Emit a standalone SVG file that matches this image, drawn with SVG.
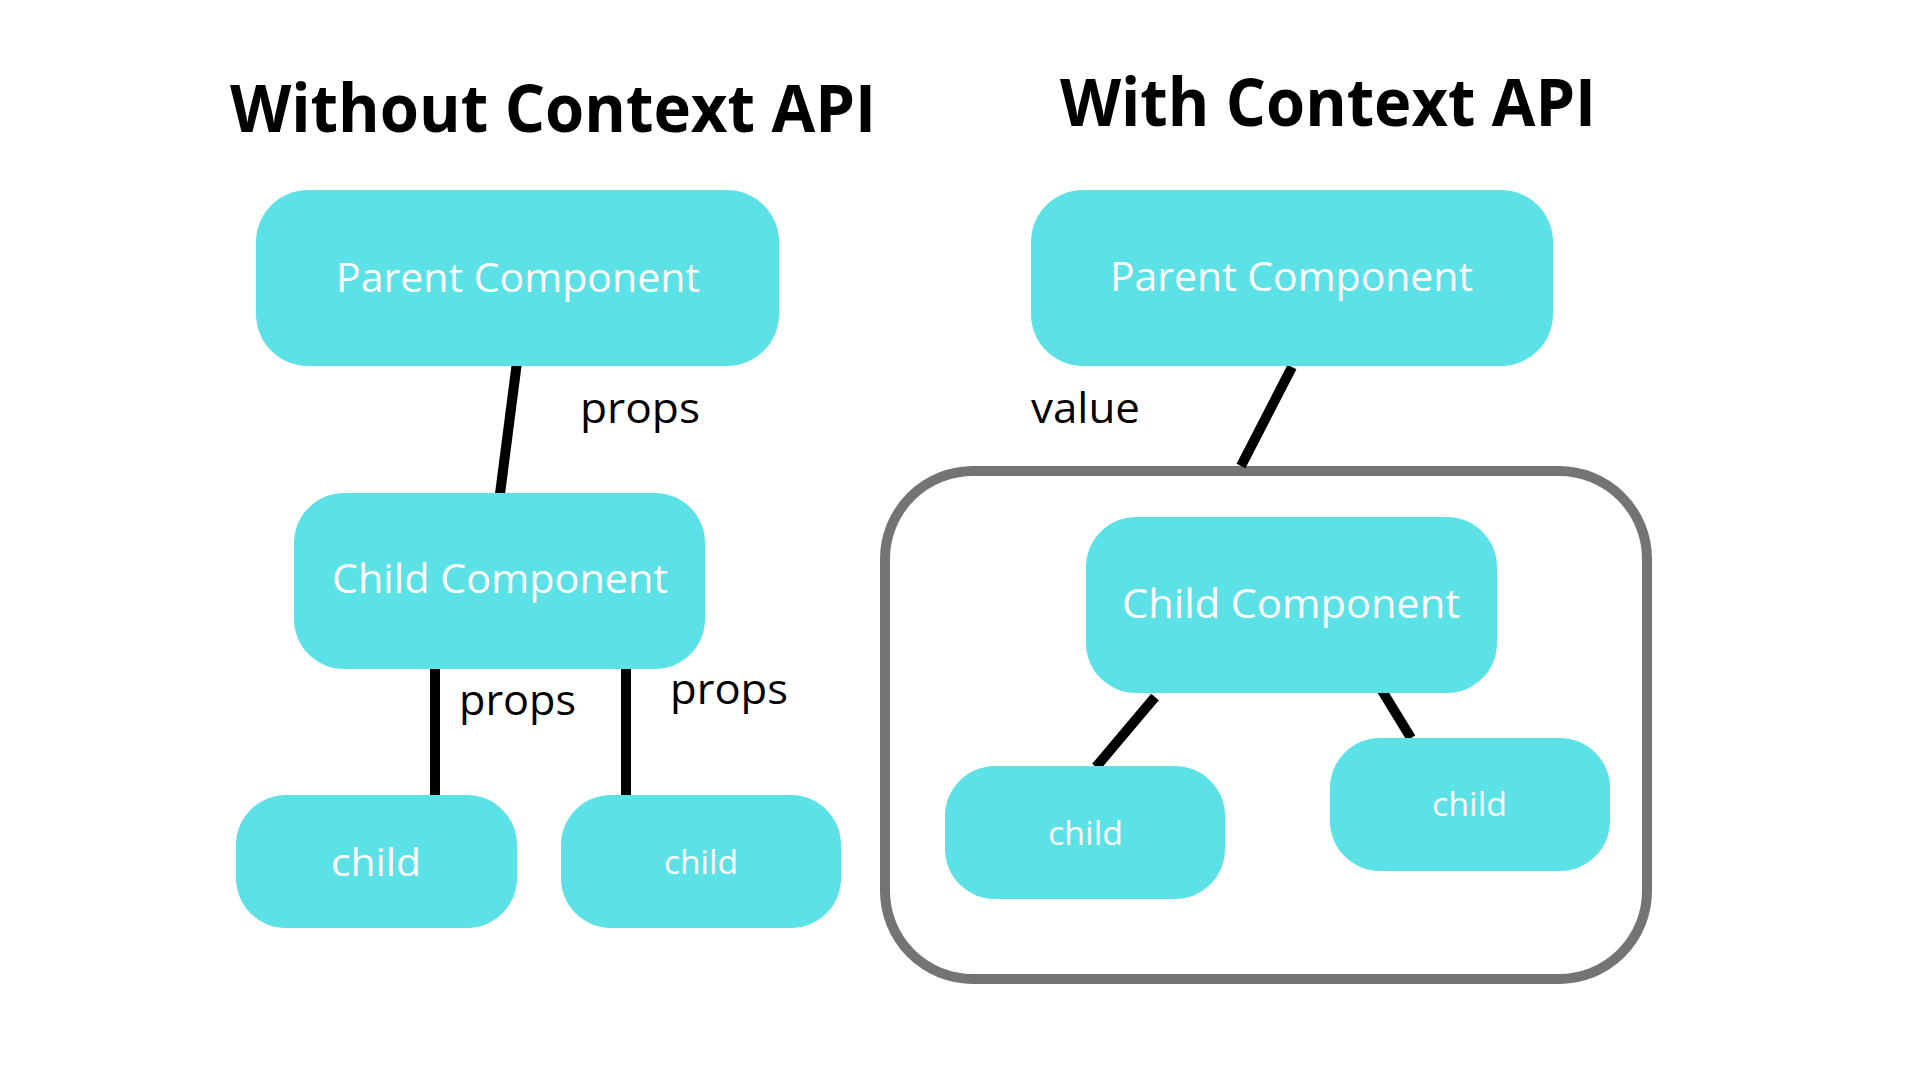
<svg xmlns="http://www.w3.org/2000/svg" width="1920" height="1080" viewBox="0 0 1920 1080">
  <style>
    .box { fill: #5ce1e6; }
    .ntext { fill: #ffffff; font-family: "Open Sans", "Noto Sans", sans-serif; font-weight: 400; }
    .label { fill: #000000; font-family: "Open Sans", "Noto Sans", sans-serif; font-weight: 400; font-size: 42px; }
    .title { fill: #000000; font-family: "Open Sans", "Liberation Sans", sans-serif; font-weight: 700; font-size: 67px; }
    .conn { stroke: #000000; stroke-width: 10; fill: none; stroke-linecap: butt; }
    .frame { fill: none; stroke: #747474; stroke-width: 10; }
  </style>
  <rect x="0" y="0" width="1920" height="1080" fill="#ffffff"/>

  <g id="titles">
    <text class="title" x="230" y="132" textLength="646" lengthAdjust="spacingAndGlyphs">Without Context API</text>
    <text class="title" x="1060" y="126" textLength="536" lengthAdjust="spacingAndGlyphs">With Context API</text>
  </g>

  <g id="context-frame">
    <rect class="frame" x="885" y="471" width="762" height="508" rx="88" ry="88"/>
  </g>

  <g id="connectors">
    <line class="conn" x1="517" y1="362" x2="500" y2="494"/>
    <line class="conn" x1="435" y1="667" x2="435" y2="797"/>
    <line class="conn" x1="626" y1="667" x2="626" y2="797"/>
    <line class="conn" x1="1292" y1="367" x2="1241" y2="466"/>
    <line class="conn" x1="1155" y1="697" x2="1096" y2="767"/>
    <line class="conn" x1="1381" y1="689" x2="1411" y2="738"/>
    <text class="label" x="580" y="423" textLength="120" lengthAdjust="spacingAndGlyphs">props</text>
    <text class="label" x="459" y="715" textLength="117" lengthAdjust="spacingAndGlyphs">props</text>
    <text class="label" x="670" y="704" textLength="118" lengthAdjust="spacingAndGlyphs">props</text>
    <text class="label" x="1031" y="423" textLength="109" lengthAdjust="spacingAndGlyphs">value</text>
  </g>

  <g id="left-parent">
    <rect class="box" x="256" y="190" width="523" height="176" rx="52" ry="52"/>
    <text class="ntext" x="336" y="292" font-size="41" textLength="364" lengthAdjust="spacingAndGlyphs">Parent Component</text>
  </g>
  <g id="left-child-component">
    <rect class="box" x="294" y="493" width="411" height="176" rx="50" ry="50"/>
    <text class="ntext" x="332" y="593" font-size="41" textLength="336" lengthAdjust="spacingAndGlyphs">Child Component</text>
  </g>
  <g id="left-child-1">
    <rect class="box" x="236" y="795" width="281" height="133" rx="50" ry="50"/>
    <text class="ntext" x="331" y="876" font-size="38" textLength="90" lengthAdjust="spacingAndGlyphs">child</text>
  </g>
  <g id="left-child-2">
    <rect class="box" x="561" y="795" width="280" height="133" rx="50" ry="50"/>
    <text class="ntext" x="664" y="874" font-size="32" textLength="74" lengthAdjust="spacingAndGlyphs">child</text>
  </g>

  <g id="right-parent">
    <rect class="box" x="1031" y="190" width="522" height="176" rx="52" ry="52"/>
    <text class="ntext" x="1110" y="291" font-size="41" textLength="363" lengthAdjust="spacingAndGlyphs">Parent Component</text>
  </g>
  <g id="right-child-component">
    <rect class="box" x="1086" y="517" width="411" height="176" rx="50" ry="50"/>
    <text class="ntext" x="1122" y="618" font-size="41" textLength="338" lengthAdjust="spacingAndGlyphs">Child Component</text>
  </g>
  <g id="right-child-1">
    <rect class="box" x="945" y="766" width="280" height="133" rx="50" ry="50"/>
    <text class="ntext" x="1048" y="845" font-size="32" textLength="75" lengthAdjust="spacingAndGlyphs">child</text>
  </g>
  <g id="right-child-2">
    <rect class="box" x="1330" y="738" width="280" height="133" rx="50" ry="50"/>
    <text class="ntext" x="1432" y="816" font-size="32" textLength="75" lengthAdjust="spacingAndGlyphs">child</text>
  </g>
</svg>
